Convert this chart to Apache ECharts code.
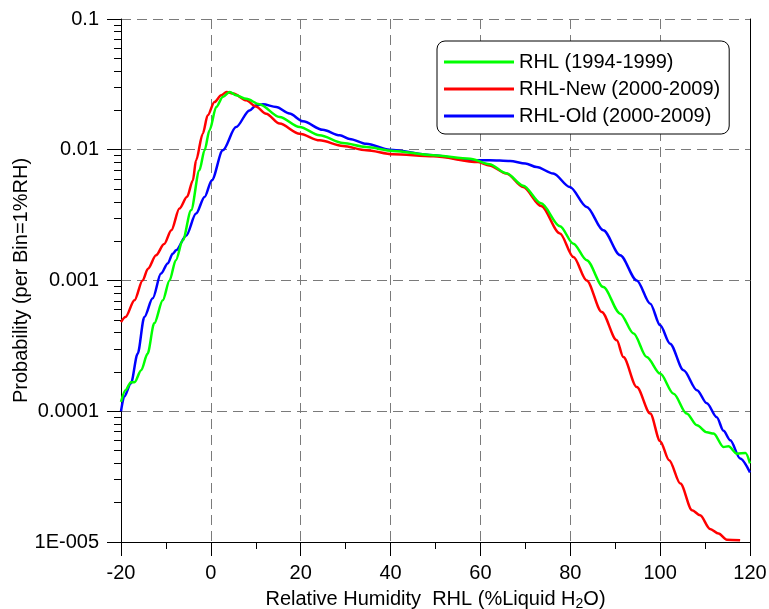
<!DOCTYPE html>
<html>
<head>
<meta charset="utf-8">
<script src="https://cdn.jsdelivr.net/npm/echarts@6/dist/echarts.min.js"></script>
<style>
  html, body { margin: 0; padding: 0; background: #fff; }
  #chart { width: 769px; height: 609px; }
</style>
</head>
<body>
<div id="chart"></div>
<script>
// RHL (1994-1999)
const greenX = [-20, -19, -17.8, -17, -15.5, -14.1, -12.6, -10.7, -9.2, -7.8, -6.25, -4.4, -2.55, -1.4, -0.3, 1.2, 2.65, 4.2,
  5.6, 7.9, 10.8, 15.3, 19.75, 24.2, 29.4, 34.6, 40.5, 49.5, 57.7, 62, 65.8, 69.5, 73.5, 77.7, 80.7, 83.65, 87.35, 91.1,
  94.1, 97, 100, 103, 105.9, 108.2, 110.4, 111.9, 114.1, 115.2, 117.1, 119, 120];
const greenY = [1.18e-4, 1.45e-4, 1.67e-4, 1.67e-4, 2.06e-4, 2.75e-4, 4.7e-4, 7.06e-4, 1.0e-3, 1.43e-3, 2.03e-3, 3.44e-3,
  6.97e-3, 9.9e-3, 0.0141, 0.0212, 0.0253, 0.0277, 0.0261, 0.0245, 0.0223, 0.0178, 0.0149, 0.0129, 0.01127, 0.0105,
  0.0098, 0.00908, 0.00855, 0.00776, 0.00661, 0.00531, 0.00389, 0.0026, 0.00191, 0.00143, 8.9e-4, 5.58e-4, 3.93e-4,
  2.6e-4, 1.94e-4, 1.36e-4, 9.6e-5, 7.8e-5, 6.9e-5, 6.75e-5, 5.33e-5, 5.4e-5, 4.74e-5, 4.8e-5, 4.0e-5];

// RHL-New (2000-2009)
const redX = [-20, -19, -17, -15.2, -14, -12.2, -10.4, -8.8, -7, -5.3, -4, -3.3, -1.8, -0.7, 0.8, 2.3, 3.5, 5, 7.9, 10,
  12.3, 15.3, 19.75, 24.2, 29.4, 34.6, 40.5, 49.5, 59.5, 62, 65.8, 69.5, 73.5, 77.7, 80.7, 83.65, 87, 90.35, 91.8, 94.8,
  97.8, 100, 102, 104.5, 107.1, 108.9, 111.1, 113, 114.85, 117.8];
const redY = [4.8e-4, 5.25e-4, 7.06e-4, 1.0e-3, 1.23e-3, 1.56e-3, 1.9e-3, 2.42e-3, 3.55e-3, 4.37e-3, 5.83e-3, 8.3e-3,
  0.01327, 0.01832, 0.02317, 0.02606, 0.02767, 0.0269, 0.02388, 0.0214, 0.01888, 0.01585, 0.01327, 0.0118, 0.01069,
  0.0099, 0.00923, 0.00891, 0.00805, 0.00759, 0.00658, 0.00519, 0.00372, 0.00229, 0.00151, 0.001, 5.75e-4, 3.49e-4,
  2.6e-4, 1.53e-4, 9.6e-5, 5.9e-5, 4.22e-5, 2.8e-5, 1.75e-5, 1.6e-5, 1.26e-5, 1.16e-5, 1.04e-5, 1.03e-5];

// RHL-Old (2000-2009)
const blueX = [-20, -19.3, -17.8, -16.3, -14.8, -12.95, -11.1, -9.6, -8.5, -7.75, -5.5, -3.3, -1.4, 0.2, 2.65, 5.6, 8.6,
  10.1, 11.6, 14.55, 17.5, 20.5, 24.9, 28.7, 30.9, 34.6, 39.8, 49.5, 57.7, 62, 66.6, 70, 72.5, 76.2, 79.9, 83.65, 87.35,
  91.1, 94.8, 97.8, 100, 102.2, 105.2, 108.2, 110.4, 112.6, 114.1, 115.6, 117.8, 120];
const blueY = [1.0e-4, 1.29e-4, 1.63e-4, 2.75e-4, 5.26e-4, 7.3e-4, 1.13e-3, 1.35e-3, 1.6e-3, 1.7e-3, 2.2e-3, 3.25e-3,
  4.36e-3, 5.83e-3, 9.9e-3, 0.0149, 0.02, 0.0219, 0.0223, 0.0212, 0.0189, 0.0165, 0.0142, 0.0129, 0.0121, 0.0111,
  0.0100, 0.00908, 0.0083, 0.00832, 0.0082, 0.00785, 0.00738, 0.00658, 0.00519, 0.00365, 0.00242, 0.00156, 0.001,
  6.65e-4, 4.54e-4, 3.29e-4, 2.06e-4, 1.45e-4, 1.15e-4, 9.0e-5, 7.1e-5, 6.0e-5, 4.35e-5, 3.4e-5];

const seriesNames = ['RHL (1994-1999)', 'RHL-New (2000-2009)', 'RHL-Old (2000-2009)'];
const yTickLabels = ['1E-005', '0.0001', '0.001', '0.01', '0.1'];

const pairs = (xs, ys) => xs.map((x, i) => [x, ys[i]]);

// minor ticks of the log axis (2..9 in every decade), placed on a log10 helper axis
const minorLogTicks = [];
for (let e = -5; e < -1; e++) {
  for (let m = 2; m <= 9; m++) minorLogTicks.push(Math.log10(m) + e);
}

const font = 'Liberation Sans, Arial, sans-serif';
const gridDash = { color: '#7a7a7a', width: 1, type: [10, 6] };

const chart = echarts.init(document.getElementById('chart'), null, { renderer: 'canvas' });

const line = (name, data, color) => ({
  name, type: 'line', data,
  showSymbol: false, smooth: 0.3, smoothMonotone: 'x',
  lineStyle: { color, width: 2.5 }, itemStyle: { color },
  clip: true
});

chart.setOption({
  animation: false,
  textStyle: { fontFamily: font },
  grid: { left: 121, right: 19, top: 19, bottom: 67, containLabel: false, outerBoundsMode: 'none' },
  legend: {
    data: seriesNames,
    orient: 'vertical',
    left: 437, top: 41,
    padding: [11, 9, 8, 7],
    itemGap: 7,
    itemWidth: 70, itemHeight: 3,
    icon: 'rect',
    backgroundColor: '#fff',
    borderColor: '#000', borderWidth: 1, borderRadius: 8,
    textStyle: { fontSize: 20, color: '#000', fontFamily: font }
  },
  xAxis: {
    type: 'value', min: -20, max: 120, interval: 20,
    name: 'Relative Humidity  RHL (%Liquid H{sub|2}O)',
    nameLocation: 'middle', nameGap: 46, nameMoveOverlap: false,
    nameTextStyle: {
      fontSize: 20, color: '#000', fontFamily: font,
      rich: { sub: { fontSize: 14, padding: [9, 0, 0, 0], color: '#000', fontFamily: font } }
    },
    axisLine: { show: true, onZero: false, lineStyle: { color: '#000', width: 1 } },
    axisTick: { show: true, inside: false, length: 14, lineStyle: { color: '#000' } },
    minorTick: { show: true, splitNumber: 2, length: 7, lineStyle: { color: '#000' } },
    axisLabel: { fontSize: 20, color: '#000', margin: 21, fontFamily: font },
    splitLine: { show: true, showMinLine: false, showMaxLine: false, lineStyle: gridDash }
  },
  yAxis: [{
    type: 'log', logBase: 10, min: 1e-5, max: 0.1,
    name: 'Probability (per Bin=1%RH)',
    nameLocation: 'middle', nameGap: 90, nameRotate: 90, nameMoveOverlap: false,
    nameTextStyle: { fontSize: 20, color: '#000', fontFamily: font },
    axisLine: { show: true, onZero: false, lineStyle: { color: '#000', width: 1 } },
    axisTick: { show: true, inside: false, length: 14, lineStyle: { color: '#000' } },
    axisLabel: {
      fontSize: 20, color: '#000', margin: 22, fontFamily: font,
      formatter: v => yTickLabels[Math.round(Math.log10(v)) + 5]
    },
    splitLine: { show: true, showMinLine: false, showMaxLine: true, lineStyle: gridDash }
  }, {
    // helper axis in log10 units, only carries the 2..9 minor ticks
    type: 'value', min: -5, max: -1, position: 'left',
    axisLine: { show: false, onZero: false },
    axisTick: { show: true, inside: false, length: 7, customValues: minorLogTicks, lineStyle: { color: '#000' } },
    axisLabel: { show: false },
    splitLine: { show: false }
  }, {
    // right frame line
    type: 'value', min: 0, max: 1, position: 'right',
    axisLine: { show: true, onZero: false, lineStyle: { color: '#000', width: 1 } },
    axisTick: { show: false }, axisLabel: { show: false }, splitLine: { show: false }
  }],
  series: [
    line(seriesNames[2], pairs(blueX, blueY), '#0000ff'),
    line(seriesNames[1], pairs(redX, redY), '#ff0000'),
    line(seriesNames[0], pairs(greenX, greenY), '#00ff00')
  ]
});
</script>
</body>
</html>
